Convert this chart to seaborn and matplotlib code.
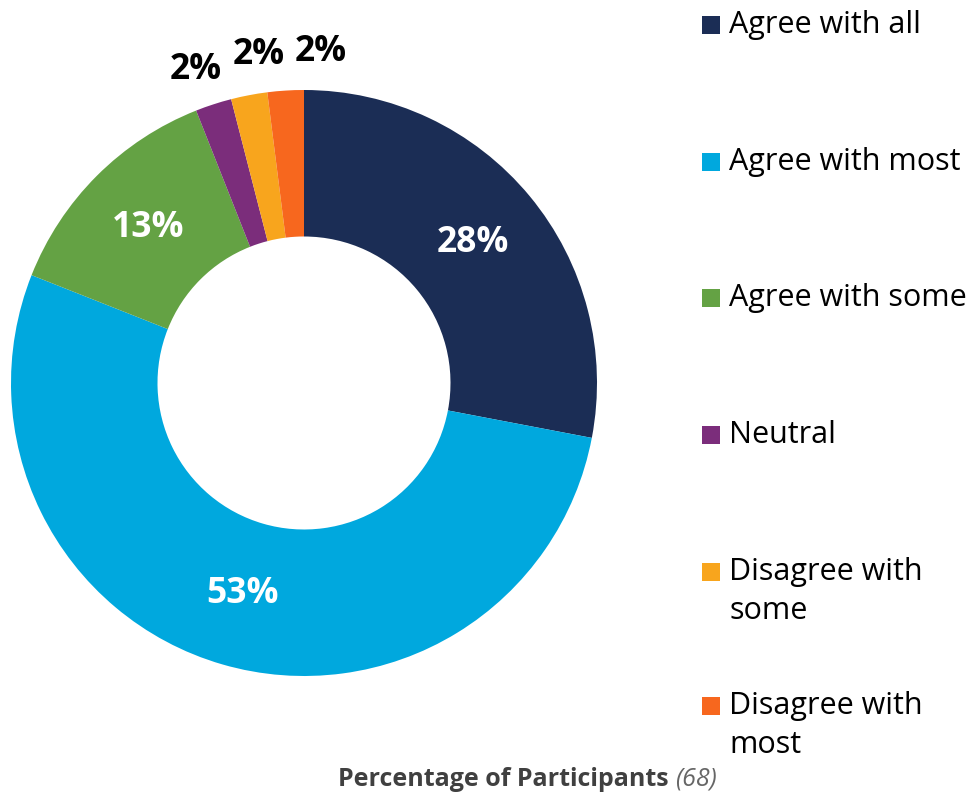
import numpy as np
import matplotlib
matplotlib.use("Agg")
import matplotlib.pyplot as plt
from matplotlib.patches import Rectangle
import seaborn as sns

categories = ["Agree with all", "Agree with most", "Agree with some",
              "Neutral", "Disagree with some", "Disagree with most"]
legend_labels = ["Agree with all", "Agree with most", "Agree with some",
                 "Neutral", "Disagree with\nsome", "Disagree with\nmost"]
percentages = [28, 53, 13, 2, 2, 2]
colors = ["#1b2d55", "#00a8de", "#64a244", "#7b2d7b", "#f8a51d", "#f7671e"]
title_main = "Percentage of Participants"
title_count = "(68)"

sns.set_theme(style="white")
plt.rcParams["font.family"] = ["Open Sans", "DejaVu Sans"]
palette = sns.color_palette(colors)

W, H = 972, 797
fig = plt.figure(figsize=(W / 100, H / 100), dpi=100)
fig.patch.set_facecolor("white")

# donut axes: 586 px square centred at (304, 383) from top-left
cx, cy, R = 304, 383, 293
ax = fig.add_axes([(cx - R) / W, (H - cy - R) / H, 2 * R / W, 2 * R / H])
wedges, _ = ax.pie(percentages, colors=palette, startangle=90, counterclock=False,
                   radius=1.0, wedgeprops=dict(width=0.5, linewidth=0))
ax.set_xlim(-1, 1)
ax.set_ylim(-1, 1)
ax.set_aspect("equal")
ax.axis("off")

# value labels: inside the ring for large slices, above it for the small ones
for i, (w, p) in enumerate(zip(wedges, percentages)):
    mid = np.deg2rad((w.theta1 + w.theta2) / 2)
    if p >= 5:
        r, color, shift = 0.75, "white", 0.0
    else:
        r, color = 1.13, "black"
        shift = np.deg2rad([1.0, -3.0, -6.5][i - 3])
    ax.text(r * np.cos(mid + shift), r * np.sin(mid + shift), f"{p}%",
            ha="center", va="center", fontsize=25.5, fontweight="bold",
            color=color, clip_on=False)

# legend
entry_y = [25, 162, 298, 435, 572, 706]
sq = 18
for lab, col, y in zip(legend_labels, colors, entry_y):
    fig.patches.append(Rectangle((702 / W, (H - y - sq / 2) / H), sq / W, sq / H,
                                 transform=fig.transFigure, facecolor=col,
                                 edgecolor="none"))
    for k, line in enumerate(lab.split("\n")):
        fig.text(729 / W, (H - y - 39 * k) / H, line, ha="left", va="center",
                 fontsize=22, color="black")

# caption below the chart
t1 = fig.text(338 / W, (H - 779) / H, title_main + " ", ha="left", va="center",
              fontsize=18, fontweight="bold", color="#404040")
fig.canvas.draw()
bb = t1.get_window_extent()
fig.text(bb.x1 / W, (H - 779) / H, title_count, ha="left", va="center",
         fontsize=18, fontstyle="italic", color="#666666")

fig.savefig("out.png", dpi=100, facecolor="white")
